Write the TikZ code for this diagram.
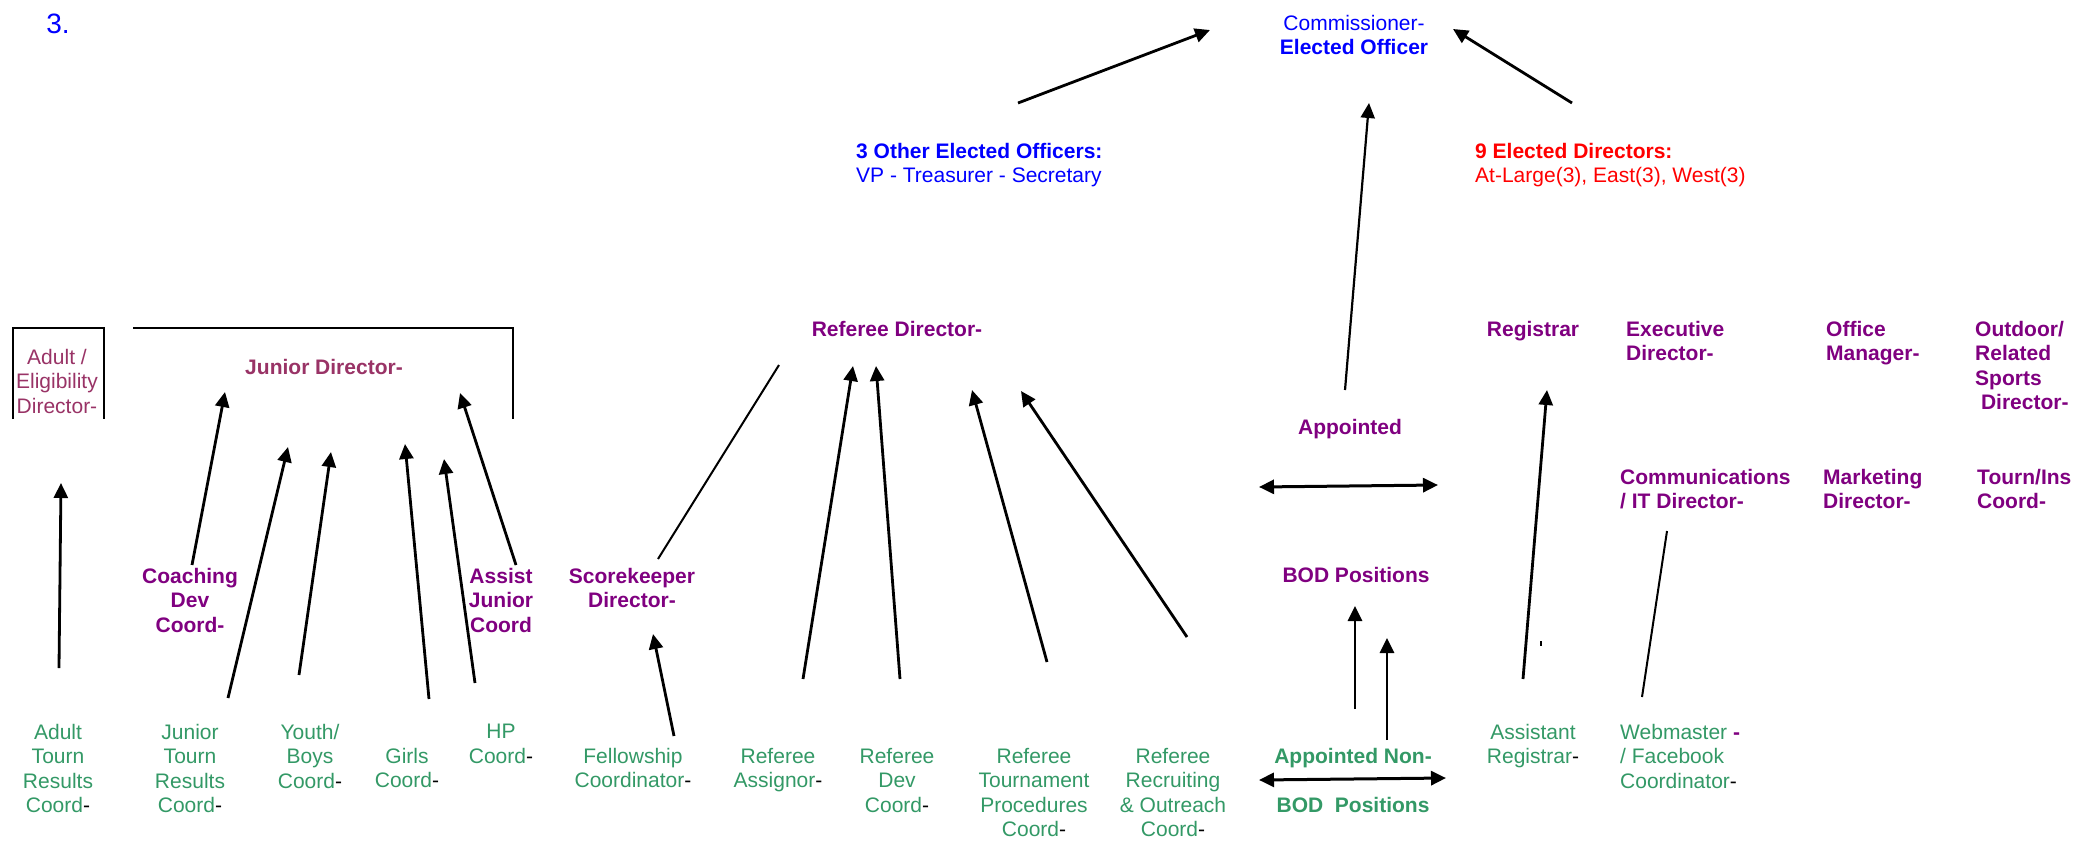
\documentclass[tikz,border=0pt]{standalone}
\usepackage{fontspec}
\setmainfont{Liberation Sans}
\usetikzlibrary{arrows.meta}
\definecolor{cblue}{HTML}{0000FF}
\definecolor{cred}{HTML}{FF0000}
\definecolor{cplum}{HTML}{993366}
\definecolor{cpurp}{HTML}{800080}
\definecolor{cgreen}{HTML}{339966}
\newcommand{\fsz}{\fontsize{21}{24.4}\selectfont}
\newcommand{\dk}{{\color{black}-}}
\begin{document}
\begin{tikzpicture}[x=1pt,y=-1pt,
  txt/.style={inner sep=0pt, anchor=north, font=\fsz, align=center, yshift=-4pt, execute at begin node=\strut},
  ltxt/.style={txt, anchor=north west, align=left},
  arr/.style={line width=2.8pt, -{Triangle[length=15pt,width=14pt]}},
  darr/.style={line width=3pt, {Triangle[length=15pt,width=14pt]}-{Triangle[length=15pt,width=14pt]}},
  thinln/.style={line width=2pt},
  boxln/.style={line width=2.5pt},
  pb/.style={txt, text=cpurp, font=\fsz\bfseries},
  lpb/.style={ltxt, text=cpurp, font=\fsz\bfseries},
  gr/.style={txt, text=cgreen}]
\useasboundingbox[fill=white] (0,0) rectangle (2084,841);

% ---------- top ----------
\node[inner sep=0pt, anchor=center, text=cblue, font=\fontsize{28}{32}\selectfont] (num) at (58,24) {3.};
\node[txt, text=cblue] (comm) at (1354,11) {Commissioner-\\\textbf{Elected Officer}};
\node[ltxt, text=cblue] (other) at (856,139) {\textbf{3 Other Elected Officers:}\\VP - Treasurer - Secretary};
\node[ltxt, text=cred] (nine) at (1475,139) {\textbf{9 Elected Directors:}\\At-Large(3), East(3), West(3)};

\coordinate (o1) at (1018,103); \coordinate (o2) at (1210,30);
\coordinate (n1) at (1572,103); \coordinate (n2) at (1453,29);
\draw[arr] (o1) -- (o2);
\draw[arr] (n1) -- (n2);

% ---------- appointed / BOD ----------
\node[pb] (appt) at (1350,413) {Appointed};
\node[pb] (bod) at (1356,561) {BOD Positions};
\node[txt, text=cgreen, font=\fsz\bfseries] (apptnon) at (1353,742) {Appointed Non-};
\node[txt, text=cgreen, font=\fsz\bfseries] (bod2) at (1353,791) {BOD\ \ Positions};

\coordinate (ap1) at (1345,390); \coordinate (ap2) at (1369,103);
\draw[line width=2.2pt, -{Triangle[length=15pt,width=14pt]}] (ap1) -- (ap2);
\coordinate (d1l) at (1259,487); \coordinate (d1r) at (1438,485);
\draw[darr] (d1l) -- (d1r);
\coordinate (u1s) at (1355,709); \coordinate (u1e) at (1355,606);
\coordinate (u2s) at (1387,740); \coordinate (u2e) at (1387,638);
\draw[arr] (u1s) -- (u1e);
\draw[arr] (u2s) -- (u2e);
\coordinate (d2l) at (1259,780); \coordinate (d2r) at (1446,778);
\draw[darr] (d2l) -- (d2r);

% ---------- right block ----------
\node[pb] (reg) at (1533,315) {Registrar};
\node[lpb] (exec) at (1626,317) {Executive\\Director-};
\node[lpb] (office) at (1826,317) {Office\\Manager-};
\node[lpb] (outdoor) at (1975,317) {Outdoor/\\Related\\Sports\\\ Director-};
\node[lpb] (comms) at (1620,465) {Communications\\/ IT Director-};
\node[lpb] (mkt) at (1823,465) {Marketing\\Director-};
\node[lpb] (tourn) at (1977,465) {Tourn/Ins\\Coord-};
\node[gr] (asstreg) at (1533,720) {Assistant\\Registrar\dk};
\node[ltxt, text=cgreen] (web) at (1620,720) {Webmaster {\color{cpurp}\bfseries -}\\/ Facebook\\Coordinator\dk};

\coordinate (r1) at (1523,679); \coordinate (r2) at (1547,390);
\draw[arr] (r1) -- (r2);
\coordinate (w1) at (1642,697); \coordinate (w2) at (1667,531);
\draw[thinln] (w1) -- (w2);
\fill (1540,641) rectangle (1542,646);

% ---------- left block ----------
\node[txt, text=cplum] (adultelig) at (57,345) {Adult /\\Eligibility\\Director-};
\node[txt, text=cplum, font=\fsz\bfseries] (junior) at (324,353) {Junior Director-};
\coordinate (ab1) at (13,419); \coordinate (ab2) at (13,328);
\coordinate (ab3) at (104,328); \coordinate (ab4) at (104,419);
\draw[boxln] (ab1) -- (ab2) -- (ab3) -- (ab4);
\coordinate (jb1) at (133,328); \coordinate (jb2) at (513,328); \coordinate (jb3) at (513,419);
\draw[boxln] (jb1) -- (jb2) -- (jb3);

\node[pb] (coach) at (190,564) {Coaching\\Dev\\Coord-};
\node[pb] (assist) at (501,564) {Assist\\Junior\\Coord};
\node[pb] (score) at (632,564) {Scorekeeper\\Director-};

\node[gr] (adulttourn) at (58,720) {Adult\\Tourn\\Results\\Coord\dk};
\node[gr] (jtourn) at (190,720) {Junior\\Tourn\\Results\\Coord\dk};
\node[gr] (youth) at (310,720) {Youth/\\Boys\\Coord\dk};
\node[gr] (girls) at (407,744) {Girls\\Coord\dk};
\node[gr] (hp) at (501,720) {HP\\Coord\dk};
\node[gr] (fellow) at (633,744) {Fellowship\\Coordinator\dk};

\coordinate (at1) at (59,668); \coordinate (at2) at (61,483);
\draw[arr] (at1) -- (at2);
\coordinate (c1) at (192,565); \coordinate (c2) at (225,392);
\draw[arr] (c1) -- (c2);
\coordinate (jt1) at (228,698); \coordinate (jt2) at (288,447);
\draw[arr] (jt1) -- (jt2);
\coordinate (y1) at (299,675); \coordinate (y2) at (331,452);
\draw[arr] (y1) -- (y2);
\coordinate (g1) at (429,699); \coordinate (g2) at (405,444);
\draw[arr] (g1) -- (g2);
\coordinate (h1) at (475,683); \coordinate (h2) at (444,459);
\draw[arr] (h1) -- (h2);
\coordinate (as1) at (516,565); \coordinate (as2) at (460,393);
\draw[arr] (as1) -- (as2);

% ---------- referee block ----------
\node[pb] (referee) at (897,315) {Referee Director-};
\node[gr] (assignor) at (778,744) {Referee\\Assignor\dk};
\node[gr] (refdev) at (897,744) {Referee\\Dev\\Coord\dk};
\node[gr] (reftourn) at (1034,744) {Referee\\Tournament\\Procedures\\Coord\dk};
\node[gr] (refrec) at (1173,744) {Referee\\Recruiting\\\& Outreach\\Coord\dk};

\coordinate (s1) at (658,559); \coordinate (s2) at (779,365);
\draw[thinln] (s1) -- (s2);
\coordinate (f1) at (674,736); \coordinate (f2) at (653,634);
\draw[arr] (f1) -- (f2);
\coordinate (ra1) at (803,679); \coordinate (ra2) at (853,366);
\draw[arr] (ra1) -- (ra2);
\coordinate (rd1) at (900,679); \coordinate (rd2) at (876,366);
\draw[arr] (rd1) -- (rd2);
\coordinate (rt1) at (1047,662); \coordinate (rt2) at (972,390);
\draw[arr] (rt1) -- (rt2);
\coordinate (rr1) at (1187,637); \coordinate (rr2) at (1021,391);
\draw[arr] (rr1) -- (rr2);
\end{tikzpicture}
\end{document}
